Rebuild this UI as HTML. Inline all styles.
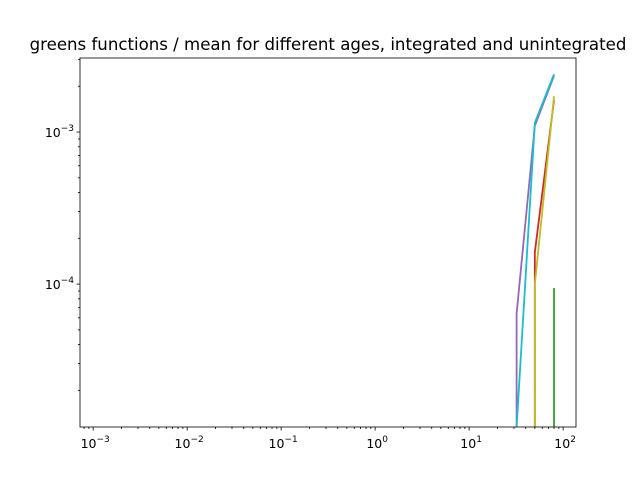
<!DOCTYPE html>
<html><head><meta charset="utf-8"><style>
html,body{margin:0;background:#fff;overflow:hidden;width:640px;height:480px;font-family:"Liberation Sans","DejaVu Sans",sans-serif}
svg{display:block}
svg text{font-family:"DejaVu Sans","Liberation Sans",sans-serif}
</style></head><body>
<svg id="c" width="640" height="480" xmlns="http://www.w3.org/2000/svg" overflow="hidden">
<rect width="640" height="480" fill="#fff"/>
<text x="328" y="50" font-size="16.6" text-anchor="middle">greens functions / mean for different ages, integrated and unintegrated</text>
<g id="marks"></g>
<g id="axes"></g>
<rect x="80" y="58" width="496" height="369" fill="none" stroke="#000" stroke-width="0.8"/>
</svg>
<script>
const xValues=[1,32,50,80];
const seriesGreen=[0,0,0,9.4e-5];
const seriesRed=[0,0,1.62e-4,1.62e-3];
const seriesPurple=[0,6.4e-5,1.1e-3,2.35e-3];
const seriesOlive=[0,0,1.0e-4,1.72e-3];
const seriesCyan=[0,1.1e-5,1.15e-3,2.4e-3];
const seriesNames=['green','red','purple','olive','cyan'];
const xTickLabels=['-3','-2','-1','0','1','2'];
const yTickLabels=['-4','-3'];
const colors=['#2ca02c','#d62728','#9467bd','#bcbd22','#17becf'];
const all=[seriesGreen,seriesRed,seriesPurple,seriesOlive,seriesCyan];
const L=80,R=576,T=58,B=427;
const xmin=-3.14,xmax=2.137,ymin=-4.94,ymax=-2.513;
function X(v){return L+(Math.log10(v)-xmin)/(xmax-xmin)*(R-L);}
function Y(v){return B-(Math.log10(v)-ymin)/(ymax-ymin)*(B-T);}
const ns='http://www.w3.org/2000/svg';
const marks=document.getElementById('marks'),axes=document.getElementById('axes');
const clip=document.createElementNS(ns,'clipPath');clip.setAttribute('id','cp');
const cr=document.createElementNS(ns,'rect');cr.setAttribute('x',L);cr.setAttribute('y',T);cr.setAttribute('width',R-L);cr.setAttribute('height',B-T);
clip.appendChild(cr);document.getElementById('c').appendChild(clip);
marks.setAttribute('clip-path','url(#cp)');
all.forEach((s,i)=>{
 const pts=[];
 s.forEach((v,j)=>{
  if(v>0){pts.push([X(xValues[j]),Math.min(Y(v),B)]);}
  else{
   // non-positive values fall to -inf on log axis: segment drops vertically at neighbour x
   if(j>0&&s[j-1]>0)pts.push([X(xValues[j-1]),B]);
   if(j<s.length-1&&s[j+1]>0)pts.push([X(xValues[j+1]),B]);
  }
 });
 const p=document.createElementNS(ns,'polyline');
 p.setAttribute('points',pts.map(q=>q[0].toFixed(2)+','+q[1].toFixed(2)).join(' '));
 p.setAttribute('fill','none');p.setAttribute('stroke',colors[i]);p.setAttribute('stroke-width','1.8');
 
 
 marks.appendChild(p);
});
function line(x1,y1,x2,y2){const l=document.createElementNS(ns,'line');l.setAttribute('x1',x1);l.setAttribute('y1',y1);l.setAttribute('x2',x2);l.setAttribute('y2',y2);l.setAttribute('stroke','#000');l.setAttribute('stroke-width','0.8');axes.appendChild(l);return l;}
function label(x,y,e,anchor,name){const t=document.createElementNS(ns,'text');t.setAttribute('x',x);t.setAttribute('y',y);t.setAttribute('font-size','12.5');t.setAttribute('text-anchor',anchor);
 const sup=e[0]==='-'?'\u2212'+e.slice(1):e;
 t.innerHTML='10<tspan dy="-6" font-size="9">'+sup+'</tspan>';
 
 
 axes.appendChild(t);}
xTickLabels.forEach(e=>{const d=+e;const x=L+(d-xmin)/(xmax-xmin)*(R-L);line(x,B,x,B+3.5);label(x+2,B+21,e,'middle','x-tick-label');
 for(let k=2;k<10;k++){const xm=L+(d+Math.log10(k)-xmin)/(xmax-xmin)*(R-L);if(xm<R)line(xm,B,xm,B+2);}});
for(let k=2;k<10;k++){const xm=L+(-4+Math.log10(k)-xmin)/(xmax-xmin)*(R-L);if(xm>L)line(xm,B,xm,B+2);}
yTickLabels.forEach(e=>{const d=+e;const y=B-(d-ymin)/(ymax-ymin)*(B-T);line(L-3.5,y,L,y);label(L-6,y+5,e,'end','y-tick-label');});
for(let d=-5;d<=-3;d++)for(let k=2;k<10;k++){const v=d+Math.log10(k);if(v>ymin&&v<ymax){const y=B-(v-ymin)/(ymax-ymin)*(B-T);line(L-2,y,L,y);}}
</script>
</body></html>
